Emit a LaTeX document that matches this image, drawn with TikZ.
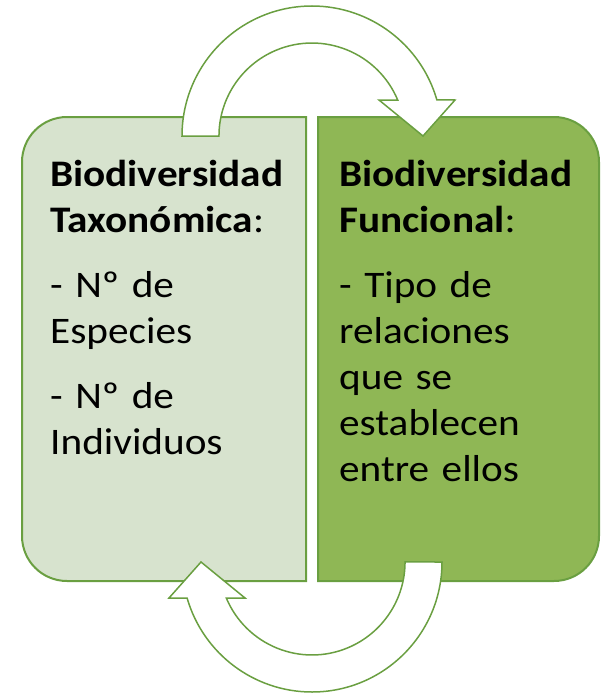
\documentclass[tikz,border=0pt]{standalone}
\usepackage{fontspec}
\setmainfont{Carlito}[FakeStretch=1.1]
\usepackage{tikz}
\usetikzlibrary{positioning}
\definecolor{leafline}{HTML}{6A9F41}
\definecolor{paleleaf}{HTML}{D7E3CE}
\definecolor{leaf}{HTML}{8FB755}
\tikzstyle{panel} = [draw=leafline, line width=2pt]
\tikzstyle{boxtext} = [anchor=base west, text width=255pt, inner sep=0pt, align=left, font=\fontsize{37.5}{46}\selectfont]
\tikzstyle{turn} = [draw=leafline, line width=1.5pt, fill=white, line join=miter]

\begin{document}
\begin{tikzpicture}[x=1pt, y=-1pt]

 \useasboundingbox (0,0) rectangle (601,693);

 \draw[panel, fill=paleleaf] (306,117) -- (67,117) arc[start angle=270, end angle=180, radius=45]
  -- (22,536) arc[start angle=180, end angle=90, radius=45] -- (306,581) -- cycle;
 \draw[panel, fill=leaf] (318,117) -- (554,117) arc[start angle=270, end angle=360, radius=45]
  -- (599,536) arc[start angle=0, end angle=90, radius=45] -- (318,581) -- cycle;

 \node (taxtext) [boxtext] at (50,186) {\textbf{Biodiversidad}\\
  \textbf{Taxonómica}:\\[19pt]
  - Nº de\\
  Especies\\[19pt]
  - Nº de\\
  Individuos};

 \node (funtext) [boxtext] at (339,186) {\textbf{Biodiversidad}\\
  \textbf{Funcional}:\\[19pt]
  - Tipo de\\
  relaciones\\
  que se\\
  establecen\\
  entre ellos};

 \draw[turn] (182,136) arc[start angle=180, end angle=343.9, radius=130]
  -- (455,100) -- (423,136) -- (379,100) -- (397.7,100)
  arc[start angle=337.2, end angle=180, radius=93] -- cycle;

 \draw[turn] (442,562) arc[start angle=0, end angle=163.9, radius=130]
  -- (169,598) -- (201,562) -- (245,598) -- (226.3,598)
  arc[start angle=157.2, end angle=0, radius=93] -- cycle;

\end{tikzpicture}
\end{document}
